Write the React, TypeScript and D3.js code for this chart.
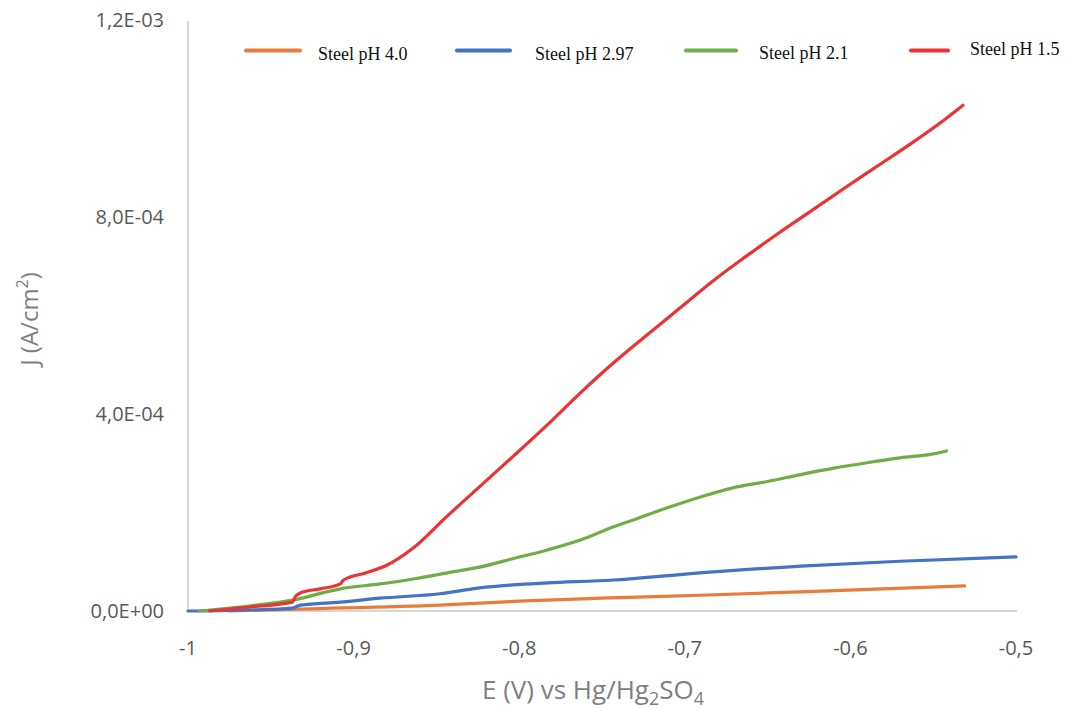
import React from "react";
import * as d3 from "d3";

const xTicks = [-1, -0.9, -0.8, -0.7, -0.6, -0.5];
const yTicks = [0, 4e-4, 8e-4, 1.2e-3];
const xTickLabels = ["-1", "-0,9", "-0,8", "-0,7", "-0,6", "-0,5"];
const yTickLabels = ["0,0E+00", "4,0E-04", "8,0E-04", "1,2E-03"];

const seriesNames = ["Steel pH 4.0", "Steel pH 2.97", "Steel pH 2.1", "Steel pH 1.5"];
const seriesColors = ["#E97C3D", "#4472C4", "#70AD47", "#EC3232"];

// E (V), J in units of 1e-4 A/cm2
const orangeE = [-0.975, -0.932, -0.848, -0.8, -0.751, -0.691, -0.63, -0.531];
const orangeJ = [0, 0.04, 0.12, 0.2, 0.26, 0.32, 0.39, 0.51];

const blueE = [-1.0, -0.963, -0.937, -0.932, -0.908, -0.884, -0.848, -0.824, -0.804, -0.783, -0.743, -0.703, -0.63, -0.57, -0.5];
const blueJ = [0, 0.02, 0.06, 0.12, 0.18, 0.26, 0.35, 0.47, 0.53, 0.57, 0.63, 0.74, 0.91, 1.01, 1.1];

const greenE = [-0.993, -0.963, -0.937, -0.908, -0.884, -0.864, -0.844, -0.824, -0.804, -0.783, -0.763, -0.743, -0.731, -0.711, -0.691, -0.671, -0.65, -0.63, -0.61, -0.59, -0.57, -0.55, -0.542];
const greenJ = [0, 0.1, 0.22, 0.45, 0.55, 0.65, 0.77, 0.89, 1.06, 1.24, 1.44, 1.71, 1.85, 2.09, 2.31, 2.5, 2.63, 2.77, 2.9, 3.01, 3.11, 3.19, 3.25];

const redE = [-0.987, -0.963, -0.937, -0.935, -0.932, -0.92, -0.908, -0.906, -0.893, -0.88, -0.864, -0.844, -0.824, -0.804, -0.783, -0.763, -0.743, -0.723, -0.703, -0.683, -0.663, -0.643, -0.623, -0.603, -0.583, -0.563, -0.543, -0.532];
const redJ = [0, 0.08, 0.18, 0.3, 0.37, 0.45, 0.55, 0.63, 0.77, 0.93, 1.28, 1.91, 2.52, 3.13, 3.78, 4.43, 5.04, 5.6, 6.15, 6.7, 7.2, 7.68, 8.14, 8.6, 9.05, 9.5, 9.98, 10.27];

const seriesE = [orangeE, blueE, greenE, redE];
const seriesJ = [orangeJ, blueJ, greenJ, redJ];

const W = 1066;
const H = 709;
const left = 188;
const right = 1016;
const top = 20;
const bottom = 611;

export default function App() {
  const x = d3.scaleLinear().domain([-1, -0.5]).range([left, right]);
  const y = d3.scaleLinear().domain([0, 1.2e-3]).range([bottom, top]);
  const line = d3
    .line<[number, number]>()
    .x((d) => x(d[0]))
    .y((d) => y(d[1] * 1e-4))
    .curve(d3.curveMonotoneX);

  const legendItems = [
    { lx1: 246, lx2: 300, tx: 318, ty: 60 },
    { lx1: 457, lx2: 510, tx: 535, ty: 60 },
    { lx1: 686, lx2: 736, tx: 759, ty: 59 },
    { lx1: 911, lx2: 948, tx: 970, ty: 55 },
  ];

  const axisFont = "'Open Sans', sans-serif";

  return (
    <svg
      width={W}
      height={H}
      style={{ position: "fixed", left: 0, top: 0, background: "#fff" }}
    >
      <rect x={0} y={0} width={W} height={H} fill="#fff" />
      <line x1={left} x2={left} y1={y(1.2e-3) + 1} y2={bottom} stroke="#C8C8C8" strokeWidth={1.5} />
      <line x1={left} x2={right + 1} y1={bottom} y2={bottom} stroke="#C8C8C8" strokeWidth={1.5} />

      {yTicks.map((t, i) => (
        <text
          key={"y" + i}
          x={164}
          y={y(t)}
          dy="0.36em"
          textAnchor="end"
          fontFamily={axisFont}
          fontSize={20}
          fill="#595959"
        >
          {yTickLabels[i]}
        </text>
      ))}
      {xTicks.map((t, i) => (
        <text
          key={"x" + i}
          x={x(t)}
          y={655}
          textAnchor="middle"
          fontFamily={axisFont}
          fontSize={20}
          fill="#595959"
        >
          {xTickLabels[i]}
        </text>
      ))}

      <text
        x={593}
        y={699}
        textAnchor="middle"
        fontFamily={axisFont}
        fontSize={26}
        fill="#7F7F7F"
      >
        E (V) vs Hg/Hg
        <tspan fontSize={18} dy={6}>2</tspan>
        <tspan dy={-6}>SO</tspan>
        <tspan fontSize={18} dy={6}>4</tspan>
      </text>

      <text
        transform="translate(38,319) rotate(-90)"
        textAnchor="middle"
        fontFamily={axisFont}
        fontSize={24}
        fill="#7F7F7F"
      >
        J (A/cm
        <tspan fontSize={16} dy={-10}>2</tspan>
        <tspan dy={10}>)</tspan>
      </text>

      {seriesE.map((es, si) => {
        const pts: [number, number][] = es.map((e, k) => [e, seriesJ[si][k]]);
        return (
          <path
            key={"s" + si}
            d={line(pts) || ""}
            fill="none"
            stroke={seriesColors[si]}
            strokeWidth={3.2}
            strokeLinejoin="round"
            strokeLinecap="round"
          />
        );
      })}

      {legendItems.map((it, i) => (
        <g key={"l" + i}>
          <line
            x1={it.lx1}
            x2={it.lx2}
            y1={50.5}
            y2={50.5}
            stroke={seriesColors[i]}
            strokeWidth={4}
            strokeLinecap="round"
          />
          <text
            x={it.tx}
            y={it.ty}
            fontFamily="'Liberation Serif', 'Times New Roman', serif"
            fontSize={18}
            fill="#111"
          >
            {seriesNames[i]}
          </text>
        </g>
      ))}
    </svg>
  );
}
